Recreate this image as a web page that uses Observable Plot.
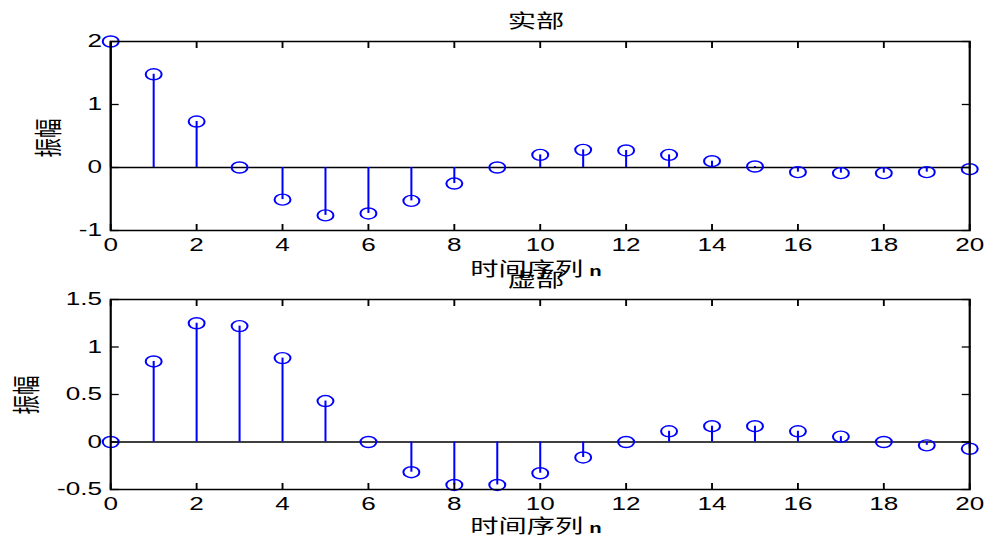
<!DOCTYPE html>
<html>
<head>
<meta charset="utf-8">
<script src="https://cdn.jsdelivr.net/npm/d3@7"></script>
<script src="https://cdn.jsdelivr.net/npm/@observablehq/plot@0.6"></script>
<style>
  html, body { margin: 0; padding: 0; background: white; overflow: hidden; }
  #wrap { position: relative; height: 538px; transform-origin: 0 0; }
  .panel { position: absolute; left: 0; }
  .lbl { position: absolute; font-family: "Noto Sans CJK SC", sans-serif; font-size: 19.5px; line-height: 19px; color: #000; white-space: nowrap; }
  .center { text-align: center; }
  .ylab { transform: translate(-50%, -50%) rotate(-90deg); }
  .latin { font-family: "Liberation Sans", Arial, sans-serif; font-weight: bold; font-size: 14px; margin-left: 4px; }
</style>
</head>
<body>
<div id="wrap"></div>
<script>
// ---- data ----
const n = d3.range(0, 21);
const realPart = [2, 1.48, 0.73, 0, -0.51, -0.76, -0.73, -0.53, -0.255, 0, 0.20, 0.28, 0.27, 0.20, 0.10, 0.016, -0.074, -0.09, -0.09, -0.074, -0.027];
const imagPart = [0, 0.848, 1.25, 1.22, 0.883, 0.431, 0, -0.318, -0.452, -0.452, -0.329, -0.163, 0, 0.113, 0.166, 0.166, 0.113, 0.057, 0, -0.035, -0.071];
const xTicks = [0, 2, 4, 6, 8, 10, 12, 14, 16, 18, 20];
const yTicksTop = [-1, 0, 1, 2];
const yTicksBottom = [-0.5, 0, 0.5, 1, 1.5];
const titles = ["实部", "虚部"];
const xLabel = "时间序列";
const xLabelLatin = "n";
const yLabel = "振幅";

// ---- layout ----
const S = 1.45;               // horizontal stretch of the reference picture
const W = 986 / S;
const wrap = document.getElementById("wrap");
wrap.style.width = W + "px";
wrap.style.transform = `scaleX(${S})`;

const blue = "#0000ff";
const fmt = d => String(d);

function panel(values, yDomain, yTicks, top, mTop, mBottom) {
  const data = n.map((k, i) => ({n: k, v: values[i]}));
  const tickOpts = {tickFormat: () => "", label: null, strokeWidth: 1.3};
  const chart = Plot.plot({
    width: W,
    height: 269,
    marginLeft: 110 / S,
    marginRight: 17 / S,
    marginTop: mTop,
    marginBottom: mBottom,
    x: {domain: [0, 20]},
    y: {domain: yDomain},
    style: {background: "transparent", fontFamily: "'Liberation Sans', Arial, sans-serif", fontSize: "18px", color: "black", overflow: "visible"},
    marks: [
      Plot.ruleY([0], {stroke: "black", strokeWidth: 1.4}),
      Plot.ruleX(data, {x: "n", y1: 0, y2: "v", stroke: blue, strokeWidth: 1.4}),
      Plot.dot(data, {x: "n", y: "v", r: 5.5, stroke: blue, strokeWidth: 1.4, fill: "none"}),
      Plot.axisX(xTicks, {anchor: "bottom", tickSize: 0, tickPadding: 8, tickFormat: fmt, label: null, fill: "black"}),
      Plot.axisY(yTicks, {anchor: "left", tickSize: 0, tickPadding: 6, tickFormat: fmt, label: null, fill: "black"}),
      Plot.axisX(xTicks, {anchor: "bottom", tickSize: -6, ...tickOpts}),
      Plot.axisX(xTicks, {anchor: "top", tickSize: -6, ...tickOpts}),
      Plot.axisY(yTicks, {anchor: "left", tickSize: -6, ...tickOpts}),
      Plot.axisY(yTicks, {anchor: "right", tickSize: -6, ...tickOpts}),
      Plot.frame({stroke: "black", strokeWidth: 1.5})
    ]
  });
  chart.classList.add("panel");
  chart.style.top = top + "px";
  wrap.appendChild(chart);
}

panel(realPart, [-1, 2], yTicksTop, 0, 41, 39);
panel(imagPart, [-0.5, 1.5], yTicksBottom, 269, 30, 49);

function addLabel(html, cls, styles) {
  const d = document.createElement("div");
  d.className = "lbl " + cls;
  d.innerHTML = html;
  Object.assign(d.style, styles);
  wrap.appendChild(d);
}
// labels centred at x ≈ 536 px in the picture
const cx = 536 / S;
const centred = {width: "200px", left: (cx - 100) + "px"};
const xl = `${xLabel}<span class="latin">${xLabelLatin}</span>`;
addLabel(xl, "center", {...centred, top: "258px"});
addLabel(xl, "center", {...centred, top: "515px"});
addLabel(titles[0], "center", {...centred, top: "10px"});
addLabel(titles[1], "center", {...centred, top: "269px"});
addLabel(yLabel, "ylab", {left: (46 / S) + "px", top: "138px"});
addLabel(yLabel, "ylab", {left: (25 / S) + "px", top: "395px"});
</script>
</body>
</html>
